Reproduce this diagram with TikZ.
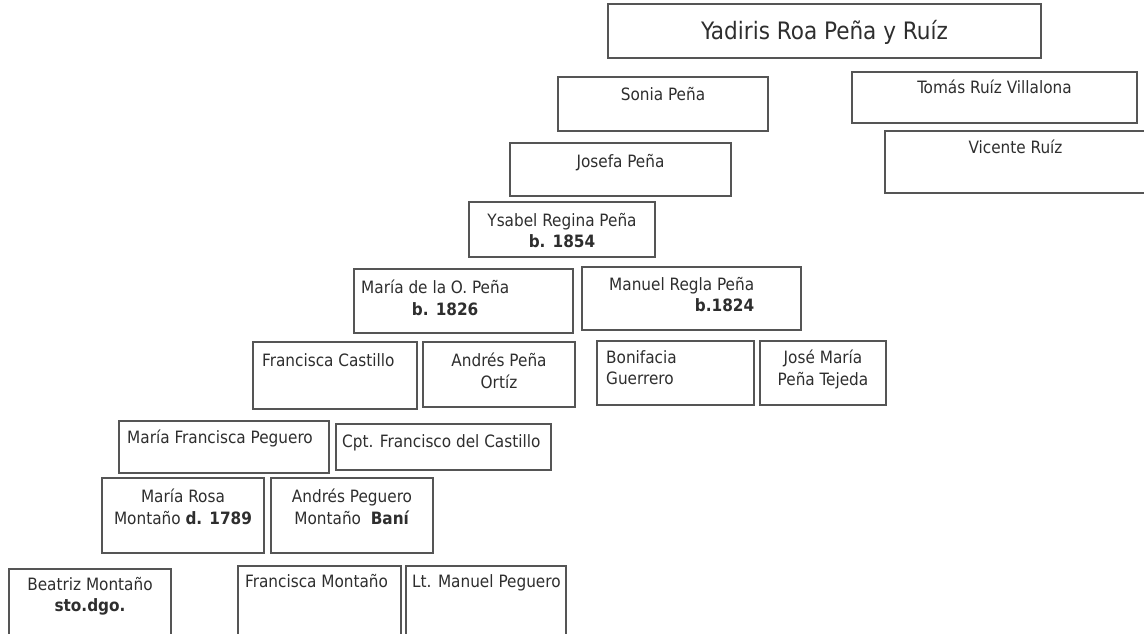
\documentclass[tikz,border=0pt]{standalone}
\usepackage{fontspec}
\setmainfont{DejaVu Sans Condensed}
\definecolor{boxgray}{HTML}{555555}
\definecolor{inkgray}{HTML}{2E2E2E}
\begin{document}
\begin{tikzpicture}[x=1pt, y=-1pt,
    person/.style={rectangle, draw=boxgray, line width=1.5pt, inner sep=0pt},
    txt/.style={inner sep=0pt, text=inkgray, font=\fontsize{17}{21.5}\selectfont},
    bigtxt/.style={inner sep=0pt, text=inkgray, font=\fontsize{24}{28}\selectfont}]
            \useasboundingbox (0, 0) rectangle (1144, 634);
            %% Anchors
            \node[person, minimum width=433pt, minimum height=54pt]
                (yadiris) at (824.5, 31) {};
            \node[person, minimum width=210pt, minimum height=54pt]
                (sonia) at (663, 104) {};
            \node[person, minimum width=285pt, minimum height=51pt]
                (tomas) at (994.5, 97.5) {};
            \node[person, minimum width=221pt, minimum height=53pt]
                (josefa) at (620.5, 169.5) {};
            \node[person, minimum width=262pt, minimum height=62pt]
                (vicente) at (1016, 162) {};
            \node[person, minimum width=186pt, minimum height=55pt]
                (ysabel) at (562, 229.5) {};
            \node[person, minimum width=219pt, minimum height=64pt]
                (mariao) at (463.5, 301) {};
            \node[person, minimum width=219pt, minimum height=63pt]
                (manuel) at (691.5, 298.5) {};
            \node[person, minimum width=164pt, minimum height=67pt]
                (fcastillo) at (335, 375.5) {};
            \node[person, minimum width=152pt, minimum height=65pt]
                (apena) at (499, 374.5) {};
            \node[person, minimum width=157pt, minimum height=64pt]
                (bonifacia) at (675.5, 373) {};
            \node[person, minimum width=126pt, minimum height=64pt]
                (josemaria) at (823, 373) {};
            \node[person, minimum width=210pt, minimum height=52pt]
                (mfpeguero) at (224, 447) {};
            \node[person, minimum width=215pt, minimum height=46pt]
                (cpt) at (443.5, 447) {};
            \node[person, minimum width=162pt, minimum height=75pt]
                (mrosa) at (183, 515.5) {};
            \node[person, minimum width=162pt, minimum height=75pt]
                (apeguero) at (352, 515.5) {};
            \node[person, minimum width=162pt, minimum height=71pt]
                (beatriz) at (90, 604.5) {};
            \node[person, minimum width=163pt, minimum height=74pt]
                (fmontano) at (319.5, 603) {};
            \node[person, minimum width=160pt, minimum height=74pt]
                (ltpeguero) at (486, 603) {};
            %% Text Nodes
            \node[bigtxt, anchor=base] at (824.5, 40) (yadiristxt) {Yadiris Roa Peña y Ruíz};
            \node[txt, anchor=base] at (663, 101) (soniatxt) {Sonia Peña};
            \node[txt, anchor=base] at (994.5, 93) (tomastxt) {Tomás Ruíz Villalona};
            \node[txt, anchor=base] at (620.5, 167) (josefatxt) {Josefa Peña};
            \node[txt, anchor=base] at (1015.5, 153) (vicentetxt) {Vicente Ruíz};
            \node[txt, anchor=north, align=center] at (562, 213) (ysabeltxt)
                {Ysabel Regina Peña\\\textbf{b. 1854}};
            \node[txt, anchor=north west, align=center] at (361, 280) (mariaotxt)
                {María de la O. Peña\\\hspace*{20pt}\textbf{b. 1826}};
            \node[txt, anchor=north west, align=right] at (609, 277) (manueltxt)
                {Manuel Regla Peña\\\textbf{b.1824}};
            \node[txt, anchor=base west] at (262, 366) (fcastillotxt) {Francisca Castillo};
            \node[txt, anchor=north, align=center] at (499, 353) (apenatxt)
                {Andrés Peña\\Ortíz};
            \node[txt, anchor=north west, align=left] at (606, 350) (bonifaciatxt)
                {Bonifacia\\Guerrero};
            \node[txt, anchor=north, align=center] at (823, 350) (josemariatxt)
                {José María\\Peña Tejeda};
            \node[txt, anchor=base west] at (127, 443) (mfpeguerotxt) {María Francisca Peguero};
            \node[txt, anchor=base west] at (342, 447) (cpttxt) {Cpt. Francisco del Castillo};
            \node[txt, anchor=north, align=center] at (183, 489) (mrosatxt)
                {María Rosa\\Montaño \textbf{d. 1789}};
            \node[txt, anchor=north, align=center] at (352, 489) (apeguerotxt)
                {Andrés Peguero\\Montaño\ \ \textbf{Baní}};
            \node[txt, anchor=north, align=center] at (90, 577) (beatriztxt)
                {Beatriz Montaño\\\textbf{sto.dgo.}};
            \node[txt, anchor=base west] at (245, 587) (fmontanotxt) {Francisca Montaño};
            \node[txt, anchor=base west] at (412, 587) (ltpeguerotxt) {Lt. Manuel Peguero};
\end{tikzpicture}
\end{document}
